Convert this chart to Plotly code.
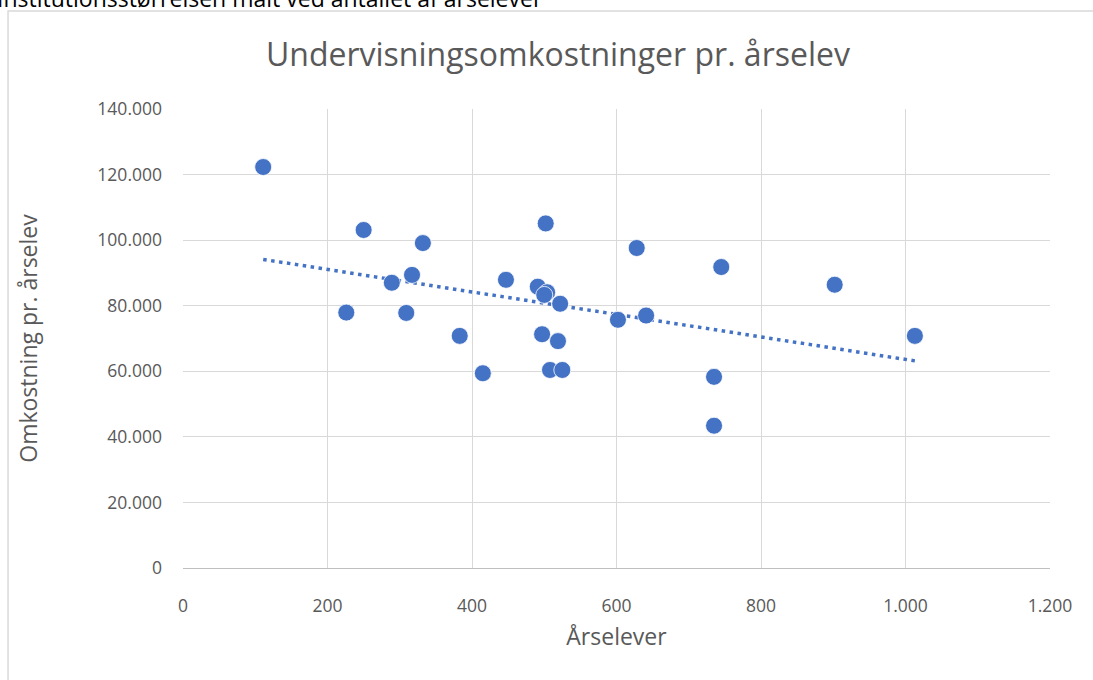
import numpy as np
import plotly.graph_objects as go

# Årselever og undervisningsomkostninger pr. årselev
aarselever = [111, 250, 226, 289, 317, 332, 309, 383, 415, 447, 491, 502, 504,
              500, 497, 522, 519, 508, 525, 602, 628, 641, 735, 735, 745, 902, 1013]
omkostning = [122300, 103100, 77900, 87000, 89400, 99100, 77800, 70800, 59400,
              87900, 85800, 105100, 84100, 83300, 71300, 80600, 69200, 60400,
              60400, 75700, 97600, 77000, 58300, 43400, 91800, 86400, 70800]

x_ticks = [0, 200, 400, 600, 800, 1000, 1200]
y_ticks = [0, 20000, 40000, 60000, 80000, 100000, 120000, 140000]

blaa = "#4472C4"
graa_tekst = "#595959"
grid = "#D9D9D9"
font = "Open Sans, sans-serif"

# lineær tendenslinje
a, b = np.polyfit(aarselever, omkostning, 1)
tx = np.array([min(aarselever), max(aarselever)])
ty = a * tx + b

fig = go.Figure()

fig.add_trace(go.Scatter(x=tx, y=ty, mode="lines",
                         line=dict(color=blaa, width=3.5, dash="3.5px,4.5px"),
                         hoverinfo="skip", showlegend=False))

fig.add_trace(go.Scatter(x=aarselever, y=omkostning, mode="markers",
                         marker=dict(color=blaa, size=17,
                                     line=dict(color="white", width=0.8)),
                         showlegend=False))

fig.update_xaxes(range=[0, 1200], tickvals=x_ticks, tickformat=",d",
                 showgrid=True, gridcolor=grid, gridwidth=1,
                 zeroline=False, showline=True, linecolor="#BFBFBF",
                 ticks="", ticklabelstandoff=22,
                 tickfont=dict(size=17.5, color=graa_tekst, family=font),
                 title=dict(text="Årselever", standoff=12,
                            font=dict(size=23, color=graa_tekst, family=font)))
fig.update_yaxes(range=[0, 140000], tickvals=y_ticks, tickformat=",d",
                 showgrid=True, gridcolor=grid, gridwidth=1,
                 zeroline=False, showline=False,
                 ticks="", ticklabelstandoff=20,
                 tickfont=dict(size=17.5, color=graa_tekst, family=font),
                 title=dict(text="Omkostning pr. årselev", standoff=53,
                            font=dict(size=23, color=graa_tekst, family=font)))

fig.update_layout(
    width=1093, height=680,
    separators=",.",
    paper_bgcolor="white", plot_bgcolor="white",
    margin=dict(l=183, r=43, t=109, b=112, pad=0),
    title=dict(text="Undervisningsomkostninger pr. årselev",
               x=0.5105, xref="container", xanchor="center",
               y=0.919, yref="container", yanchor="middle",
               font=dict(size=32, color=graa_tekst, family=font)),
    shapes=[dict(type="rect", xref="paper", yref="paper",
                 x0=-0.2018, x1=1.3, y0=-0.5, y1=1.2135,
                 line=dict(color="#D9D9D9", width=1.5), layer="below")],
    annotations=[dict(text="Institutionsstørrelsen målt ved antallet af årselever",
                      xref="paper", yref="paper", x=-0.2168, y=1.2418,
                      xanchor="left", yanchor="middle", showarrow=False,
                      font=dict(size=23, color="black", family=font))],
)

# siden skal starte i hjørnet (ingen body-margin)
fig.write_html("out.html", config={"displayModeBar": False},
               post_script="document.body.style.margin='0';")
